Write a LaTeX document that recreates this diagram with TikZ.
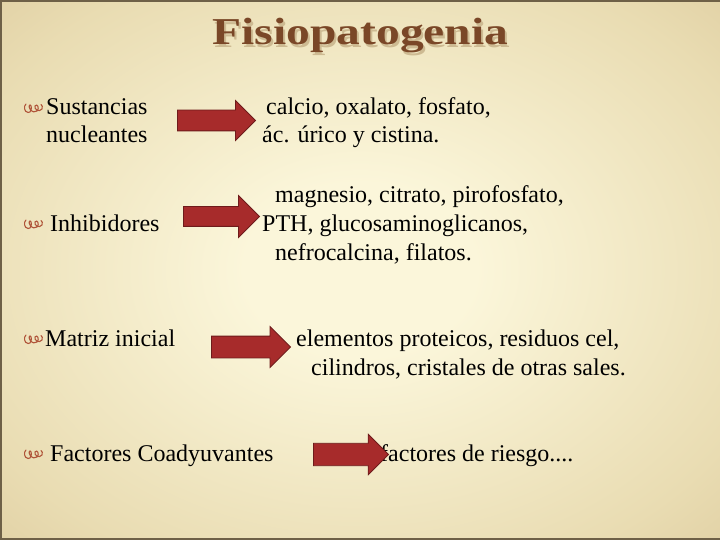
\documentclass[tikz,border=0pt]{standalone}
\usepackage{fontspec}
\setmainfont{Liberation Serif}
\usetikzlibrary{shapes.arrows}
\definecolor{bgin}{HTML}{FBF6DA}
\definecolor{bgmid}{HTML}{E9DCB2}
\definecolor{bgedge}{HTML}{D1BA8A}
\definecolor{bgout}{HTML}{C3A777}
\definecolor{titlebrown}{HTML}{7A4727}
\definecolor{titleshade}{HTML}{CDBA92}
\definecolor{arrowred}{HTML}{A72B2B}
\definecolor{arrowedge}{HTML}{6E1B1B}
\definecolor{bulletred}{HTML}{B0553A}
\definecolor{slideframe}{HTML}{6E6047}
\pgfdeclareradialshading{slidebg}{\pgfpoint{0bp}{0bp}}{color(0bp)=(bgin); color(8bp)=(bgin); color(30bp)=(bgmid); color(50bp)=(bgedge); color(72bp)=(bgout)}
\tikzset{
  item/.style={font=\fontsize{24}{28}\selectfont,anchor=base west,inner sep=0pt},
  bigarrow/.style={single arrow,draw=arrowedge,fill=arrowred,line width=0.8pt,
                   inner xsep=0pt,inner ysep=10pt,anchor=tip,minimum height=#1,
                   minimum width=0pt,single arrow head extend=9.5pt},
  bulletcurl/.pic={
    \draw[bulletred,line width=1.1pt,line cap=round]
      (2,1) .. controls (-0.5,3) and (0,9) .. (4,9.5)
            .. controls (7,10) and (8,5) .. (7,3)
            .. controls (6,0.5) and (4,3) .. (6,6)
            .. controls (8,9) and (11,10) .. (13,8)
            .. controls (16,5) and (13,0) .. (11,3)
            .. controls (10,6) and (15,10) .. (18,6)
            .. controls (19,4) and (18,2) .. (17,1.5);
  },
}
\begin{document}
\begin{tikzpicture}[x=1pt,y=-1pt]
  \useasboundingbox (0,0) rectangle (720,540);
  % ===== slide background =====
  \shade[shading=slidebg] (0,0) rectangle (720,540);
  \draw[slideframe,line width=2pt] (720,1) -- (1,1) -- (1,539) -- (720,539);

  % ===== title =====
  \node[font=\fontsize{38}{44}\selectfont\bfseries,text=titleshade,anchor=base,inner sep=0pt]
       (titleshadow) at (362.5,47.5) {\scalebox{1.25}[1]{Fisiopatogenia}};
  \node[font=\fontsize{38}{44}\selectfont\bfseries,text=titlebrown,anchor=base,inner sep=0pt]
       (title) at (360.5,45) {\scalebox{1.25}[1]{Fisiopatogenia}};

  % ===== bullets =====
  \foreach \yb in {115,231,346,461}
    \pic at (24,\yb-12) {bulletcurl};

  % ===== left column =====
  \node[item] (sust)  at (46,115)   {Sustancias};
  \node[item] (nucl)  at (46,143)   {nucleantes};
  \node[item] (inhib) at (50,231)   {Inhibidores};
  \node[item] (matr)  at (45,346)   {Matriz inicial};
  \node[item] (coad)  at (50,461)   {Factores Coadyuvantes};

  % ===== right column =====
  \node[item] (calc)  at (266,115)  {calcio, oxalato, fosfato,};
  \node[item] (acur)  at (262,143)  {ác. úrico y cistina.};
  \node[item] (magn)  at (275,203)  {magnesio, citrato, pirofosfato,};
  \node[item] (pth)   at (262,231.5){PTH, glucosaminoglicanos,};
  \node[item] (nefr)  at (275,260)  {nefrocalcina, filatos.};
  \node[item] (elem)  at (296,346)  {elementos proteicos, residuos cel,};
  \node[item] (cili)  at (311,375)  {cilindros, cristales de otras sales.};
  \node[item] (ries)  at (380,461)  {factores de riesgo....};

  % ===== block arrows =====
  \node[bigarrow=78pt] (arrA) at (256,120.5) {};
  \node[bigarrow=76pt,inner ysep=9.5pt,single arrow head extend=11pt] (arrB) at (260,216.5) {};
  \node[bigarrow=79pt,inner ysep=10.5pt] (arrC) at (291,347) {};
  \node[bigarrow=75pt,inner ysep=10.8pt,single arrow head extend=9pt] (arrD) at (389,454.5) {};
\end{tikzpicture}
\end{document}
